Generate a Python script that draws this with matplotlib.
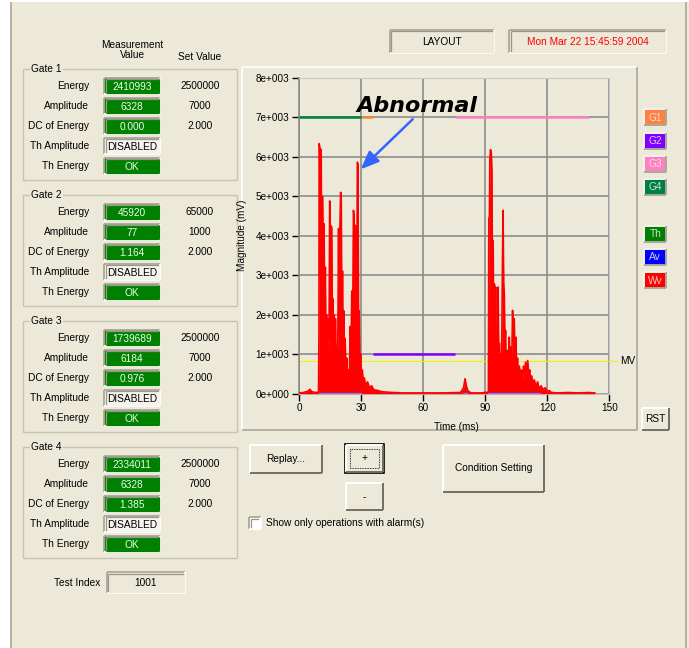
import matplotlib
matplotlib.use("Agg")
import matplotlib.pyplot as plt
from matplotlib.patches import Rectangle

plt.rcParams["font.family"] = ["Liberation Sans", "DejaVu Sans"]

BG = "#ECE9D8"
DARK = "#716F64"
LIGHT = "#FFFFFF"
W, H = 689, 648

# ---- panel values ----
gate_names = ["Gate 1", "Gate 2", "Gate 3", "Gate 4"]
row_labels = ["Energy", "Amplitude", "DC of Energy", "Th Amplitude", "Th Energy"]
meas_energy = ["2410993", "45920", "1739689", "2334011"]
meas_amplitude = ["6328", "77", "6184", "6328"]
meas_dc = ["0.000", "1.164", "0.976", "1.385"]
meas_th_amplitude = ["DISABLED", "DISABLED", "DISABLED", "DISABLED"]
meas_th_energy = ["OK", "OK", "OK", "OK"]
set_energy = ["2500000", "65000", "2500000", "2500000"]
set_amplitude = ["7000", "1000", "7000", "7000"]
set_dc = ["2.000", "2.000", "2.000", "2.000"]
test_index = "1001"
date_text = "Mon Mar 22 15:45:59 2004"

# ---- waveform (ms, mV) ----
wave_t = [0, 2, 4, 5.2, 6, 8, 9.3, 9.5, 9.6, 9.9, 10.1, 10.3, 10.6, 10.9, 11.2,
          11.4, 11.7, 12.0, 12.3, 12.6, 12.9, 13.2, 13.5, 13.8, 14.1, 14.4, 14.7,
          14.9, 15.1, 15.4, 15.7, 16.0, 16.3, 16.6, 16.9, 17.2, 17.5, 17.8, 18.1,
          18.4, 18.7, 19.0, 19.3, 19.6, 20.0, 20.3, 20.6, 20.9, 21.2, 21.5, 21.8,
          22.2, 22.6, 23.0, 23.4, 23.8, 24.2, 24.6, 25.0, 25.4, 25.8, 26.2, 26.5,
          26.8, 27.1, 27.4, 27.8, 28.1, 28.4, 28.7, 29.0, 29.3, 29.7, 30.1, 30.5,
          31.0, 31.5, 32, 33, 34, 35, 36, 38, 40, 45, 50, 60, 70, 78, 79.5, 80.2,
          80.8, 81.5, 83, 88, 91.5, 91.7, 92.0, 92.2, 92.5, 92.9, 93.2, 93.5, 93.8,
          94.1, 94.4, 94.7, 95.0, 95.3, 95.6, 95.9, 96.2, 96.5, 96.8, 97.1, 97.4,
          97.7, 98.0, 98.3, 98.6, 98.9, 99.2, 99.5, 99.8, 100.1, 100.4, 100.8,
          101.2, 101.6, 102.0, 102.4, 102.8, 103.2, 103.6, 104.0, 104.4, 104.8,
          105.2, 105.6, 106.0, 106.5, 107.0, 107.5, 108.0, 108.5, 109.0, 109.5,
          110.0, 110.5, 111.0, 111.5, 112.0, 112.5, 113.0, 113.7, 114.5, 115.3,
          116, 117, 118, 119, 120, 121, 122, 125, 130, 135, 140, 143]
wave_mv = [20, 30, 60, 110, 50, 30, 40, 1500, 6330, 6250, 3000, 6200, 6050, 2500, 5000,
           4300, 1800, 4300, 1500, 3200, 1200, 2000, 900, 1900, 1000, 1500, 4880,
           4700, 1400, 4250, 4200, 1800, 2400, 1000, 2000, 800, 1900, 700, 1200,
           600, 1700, 4180, 1500, 4100, 5100, 4900, 1800, 3100, 1200, 2100, 800,
           1400, 500, 900, 300, 600, 250, 1700, 900, 2600, 1500, 4640, 4500,
           1800, 4260, 1500, 2500, 5860, 5800, 1500, 2100, 800, 1000, 400, 600,
           250, 400, 200, 300, 150, 200, 100, 80, 50, 30, 20, 20, 20, 30, 150, 380,
           200, 80, 20, 20, 40, 4430, 4500, 5910, 6180, 6100, 5650, 2500, 3880,
           1500, 2780, 1000, 2700, 800, 1400, 600, 2700, 900, 1270, 500, 1000,
           600, 1500, 3290, 4640, 2800, 2530, 1200, 1600, 500, 900, 1100,
           600, 1430, 700, 1180, 800, 2110, 1300, 1900, 900, 1430,
           600, 900, 400, 700, 400, 600, 350, 700, 500, 800,
           500, 840, 500, 600, 300, 450, 250, 350, 180, 300,
           130, 200, 100, 150, 60, 80, 30, 20, 30, 20, 30, 20]

# gate windows: G1..G4
gate_level = [7000, 1000, 7000, 7000]
gate_start = [30.2, 35.5, 75.3, 0]
gate_end = [35.5, 75.3, 140.2, 29.9]
mv_level = 820
av_start = [9.9, 79.6, 91.8]
av_end = [30.0, 81.0, 116.5]

legend_names = ["G1", "G2", "G3", "G4", "Th", "Av", "Wv"]
legend_colors = ["#FF8040", "#8000FF", "#FF80C0", "#008040", "#008000", "#0000FF", "#FF0000"]
legend_slots = [0, 1, 2, 3, 5, 6, 7]


def hline(ax, x0, x1, y, c, lw=1.0):
    ax.plot([x0, x1], [y, y], color=c, lw=lw, solid_capstyle="butt")


def vline(ax, x, y0, y1, c, lw=1.0):
    ax.plot([x, x], [y0, y1], color=c, lw=lw, solid_capstyle="butt")


def bevel(ax, x0, y0, x1, y1, face, tl, br, lw=1.2):
    ax.add_patch(Rectangle((x0, y0), x1 - x0, y1 - y0, facecolor=face, edgecolor="none"))
    hline(ax, x0, x1, y0, tl, lw)
    vline(ax, x0, y0, y1, tl, lw)
    hline(ax, x0, x1, y1, br, lw)
    vline(ax, x1, y0, y1, br, lw)


def sunken(ax, x0, y0, x1, y1, face):
    bevel(ax, x0, y0, x1, y1, face, "#ACA899", LIGHT, 1.3)
    bevel(ax, x0 + 1.3, y0 + 1.3, x1 - 1.3, y1 - 1.3, face, "#9A978A", face, 0.9)


def button(ax, x0, y0, x1, y1, text, default=False, fs=7.3):
    bevel(ax, x0, y0, x1, y1, BG, LIGHT, DARK, 1.4)
    if default:
        ax.add_patch(Rectangle((x0 - 1, y0 - 1), x1 - x0 + 2, y1 - y0 + 2, fill=False,
                               edgecolor="#000000", lw=1.2))
        ax.add_patch(Rectangle((x0 + 4, y0 + 4), x1 - x0 - 8, y1 - y0 - 8, fill=False,
                               edgecolor="#000000", lw=0.6, ls=(0, (1, 1))))
    ax.text((x0 + x1) / 2, (y0 + y1) / 2, text, ha="center", va="center", fontsize=fs)


fig = plt.figure(figsize=(W / 100, H / 100), dpi=100, facecolor=BG)
gui = fig.add_axes([0, 0, 1, 1])
gui.set_xlim(0, W)
gui.set_ylim(H, 0)
gui.axis("off")

# window frame
gui.add_patch(Rectangle((0, 0), 11, H, facecolor=LIGHT, edgecolor="none"))
gui.add_patch(Rectangle((0, 0), W, 1.8, facecolor=LIGHT, edgecolor="none"))
vline(gui, 11, 1.8, H, "#ACA899", 1.2)
vline(gui, 685.5, 1.8, H, "#ACA899", 1.2)

# top boxes
sunken(gui, 390, 30, 494, 53.3, BG)
gui.text(442, 42, "LAYOUT", ha="center", va="center", fontsize=7.3)
sunken(gui, 509.3, 30, 666, 53.3, BG)
gui.text(587.6, 42, date_text, ha="center", va="center", fontsize=7.3, color="#FF0000")

# column headers
gui.text(132.3, 50, "Measurement\nValue", ha="center", va="center", fontsize=7.3,
         linespacing=1.05)
gui.text(200, 56.7, "Set Value", ha="center", va="center", fontsize=7.3)

# gate group boxes
for g in range(4):
    top = 69 + 126 * g
    bottom = top + 111
    gui.add_patch(Rectangle((23.3, top), 213.4, bottom - top, fill=False,
                            edgecolor="#C8C4B0", lw=1.0))
    gui.text(31, top, gate_names[g], ha="left", va="center", fontsize=7.3,
             bbox=dict(facecolor=BG, edgecolor="none", pad=1))
    meas = [meas_energy[g], meas_amplitude[g], meas_dc[g],
            meas_th_amplitude[g], meas_th_energy[g]]
    sets = [set_energy[g], set_amplitude[g], set_dc[g]]
    for r in range(5):
        yc = top + 17 + 20 * r
        gui.text(89.3, yc, row_labels[r], ha="right", va="center", fontsize=7.3)
        disabled = meas[r] == "DISABLED"
        face = "#F4F3EE" if disabled else "#008000"
        sunken(gui, 104.3, yc - 8, 160, yc + 8, face)
        gui.text(132.2, yc + 0.5, meas[r], ha="center", va="center", fontsize=7.3,
                 color="#000000" if disabled else "#E8FFE8")
        if r < 3:
            gui.text(200, yc, sets[r], ha="center", va="center", fontsize=7.3)

# test index
gui.text(100, 582.7, "Test Index", ha="right", va="center", fontsize=7.3)
sunken(gui, 106.7, 572.3, 185, 593.3, BG)
gui.text(146, 583, test_index, ha="center", va="center", fontsize=7.3)

# chart panel frame
hline(gui, 241.7, 636.7, 66.7, LIGHT, 1.2)
vline(gui, 241.7, 66.7, 430, LIGHT, 1.2)
hline(gui, 241.7, 636.7, 430, "#ACA899", 1.2)
vline(gui, 636.7, 66.7, 430, "#ACA899", 1.2)

# legend keys
for name, col, slot in zip(legend_names, legend_colors, legend_slots):
    y0 = 109.3 + 23.3 * slot
    bevel(gui, 644.3, y0, 666.3, y0 + 16, col, "#F4F3EE", "#ACA899", 1.4)
    gui.text(655.3, y0 + 8.3, name, ha="center", va="center", fontsize=7.3,
             color="#F0F0F0", alpha=0.85)

button(gui, 641.7, 408, 669, 430, "RST")
gui.text(620, 361, "MV", ha="left", va="center", fontsize=7.3)

# bottom buttons
button(gui, 250, 445, 321.7, 473.3, "Replay...")
button(gui, 346, 445, 383.3, 471.7, "+", default=True)
button(gui, 346, 483.3, 383.3, 510, "-")
button(gui, 443.3, 445, 544, 491.7, "Condition Setting")
sunken(gui, 249.3, 517.3, 260.7, 529, LIGHT)
gui.text(266, 523.5, "Show only operations with alarm(s)", ha="left", va="center",
         fontsize=7.3)

# ---- chart ----
ax = fig.add_axes([299.3 / W, 1 - 393.7 / H, 310 / W, 316 / H])
ax.set_facecolor(BG)
ax.set_xlim(0, 150)
ax.set_ylim(0, 8000)
ax.set_xticks([0, 30, 60, 90, 120, 150])
ax.set_yticks(range(0, 8001, 1000))
ax.set_yticklabels(["0e+000"] + ["%de+003" % k for k in range(1, 9)])
ax.tick_params(direction="out", length=5, width=1, labelsize=7.2, pad=2,
               colors="#000000")
ax.grid(True, color="#8C8C8C", lw=1.2)
ax.set_axisbelow(True)
for side in ["top", "right", "bottom"]:
    ax.spines[side].set_color("#C8C8C8")
ax.spines["left"].set_color("#8C8C8C")
ax.spines["left"].set_linewidth(1.2)

ax.set_ylabel("Magnitude (mV)", fontsize=7.2)
ax.yaxis.set_label_coords(-0.169, 0.5)
ax.set_xlabel("Time (ms)", fontsize=7.2)
ax.xaxis.set_label_coords(0.5055, -0.09)

ax.plot([0, 153.8], [mv_level, mv_level], color="#F0F000", lw=0.8, clip_on=False,
        zorder=2)
for k in range(4):
    ax.plot([gate_start[k], gate_end[k]], [gate_level[k], gate_level[k]],
            color=legend_colors[k], lw=1.8, solid_capstyle="butt", zorder=3)
ax.fill_between(wave_t, 0, wave_mv, color="#FF0000", lw=0, zorder=4)
ax.plot(wave_t, wave_mv, color="#FF0000", lw=1.2, zorder=4)
for s, e in zip(av_start, av_end):
    ax.plot([s, e], [0, 0], color="#7878FF", lw=1.6, zorder=5)

ax.annotate("", xy=(29.7, 5680), xytext=(54.9, 6950),
            arrowprops=dict(arrowstyle="-|>,head_length=1.1,head_width=0.45",
                            color="#3366FF", lw=1.8, shrinkA=0, shrinkB=0), zorder=6)
ax.text(27.8, 7139, "Abnormal", fontsize=16, fontweight="bold", fontstyle="italic",
        family="DejaVu Sans", ha="left", va="baseline", zorder=6)

fig.savefig("out.png", dpi=100, facecolor=BG)
